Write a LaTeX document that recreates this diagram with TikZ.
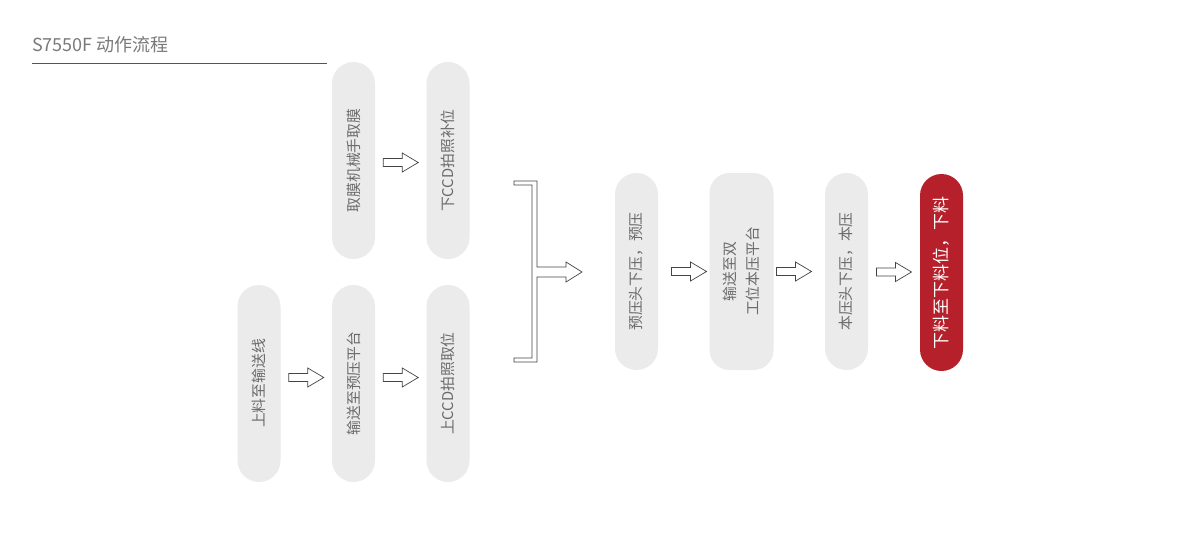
\documentclass[tikz,border=0pt]{standalone}
\usepackage{fontspec}
\setmainfont{Noto Sans CJK SC}
\usetikzlibrary{calc}
\definecolor{pillgrey}{HTML}{EBEBEB}
\definecolor{txtgrey}{HTML}{6A6A6A}
\definecolor{titlegrey}{HTML}{7A7A7A}
\definecolor{rulegrey}{HTML}{555555}
\definecolor{arrgrey}{HTML}{444444}
\definecolor{redfill}{HTML}{B5202A}
\tikzset{
  pill/.style={rectangle, fill=pillgrey, text=txtgrey, inner sep=0pt,
    minimum width=197pt, minimum height=43pt, rounded corners=21.5pt,
    rotate=90, font=\fontsize{14.8}{17}\selectfont, align=center},
  widebox/.style={pill, minimum height=64pt, rounded corners=20pt,
    font=\fontsize{14.8}{23}\selectfont},
  redpill/.style={pill, fill=redfill, text=white, font=\fontsize{17}{20}\selectfont},
  arrowline/.style={draw=arrgrey, fill=white, line width=0.7pt, line join=miter},
  blockarrow/.pic={
    \path[arrowline] (-17.5,-4) -- (1.5,-4) -- (1.5,-9.5) -- (17.5,0)
      -- (1.5,9.5) -- (1.5,4) -- (-17.5,4) -- cycle;
  }
}
\begin{document}
\begin{tikzpicture}[x=1pt,y=-1pt]
\useasboundingbox[fill=white] (0,0) rectangle (1200,544);
% title
\node[anchor=base west, inner sep=0pt, text=titlegrey, font=\fontsize{18}{21}\selectfont] (title) at (32,51) {S7550F 动作流程};
\coordinate (ruleA) at (32,63);
\coordinate (ruleB) at (327,63);
\draw[rulegrey, line width=0.8pt] (ruleA) -- (ruleB);
% upper row
\node[pill] (qm) at (353.5,160.5) {取膜机械手取膜};
\node[pill] (xccd) at (448,160.5) {下CCD拍照补位};
% lower row
\node[pill] (sl) at (259,383.5) {上料至输送线};
\node[pill] (ss) at (353.5,383.5) {输送至预压平台};
\node[pill] (sccd) at (448,383.5) {上CCD拍照取位};
% right row
\node[pill] (yy) at (636.5,271.5) {预压头下压，预压};
\node[widebox] (sb) at (741.5,271.5) {输送至双\\工位本压平台};
\node[pill] (by) at (846.5,271.5) {本压头下压，本压};
\node[redpill] (xl) at (941.5,272.5) {下料至下料位，下料};
% arrows
\pic at ($(qm)!0.5!(xccd)+(0,2)$) {blockarrow};
\pic at ($(sl)!0.5!(ss)+(0,-6)$) {blockarrow};
\pic at ($(ss)!0.5!(sccd)+(0,-6)$) {blockarrow};
\pic at ($(yy)!0.5!(sb)$) {blockarrow};
\pic at ($(sb)!0.5!(by)$) {blockarrow};
\pic at ($(by)!0.5!(xl)$) {blockarrow};
% merging bracket
\coordinate (bTop) at (514,181);
\coordinate (bBot) at (514,362);
\coordinate (bTip) at (582,272);
\path[arrowline] (bTop) -- (537,181) -- (537,267) -- (566,267) -- (566,262)
  -- (bTip) -- (566,282) -- (566,277) -- (537,277) -- (537,362) -- (bBot)
  -- (514,358) -- (532,358) -- (532,185) -- (514,185) -- cycle;
\end{tikzpicture}
\end{document}
